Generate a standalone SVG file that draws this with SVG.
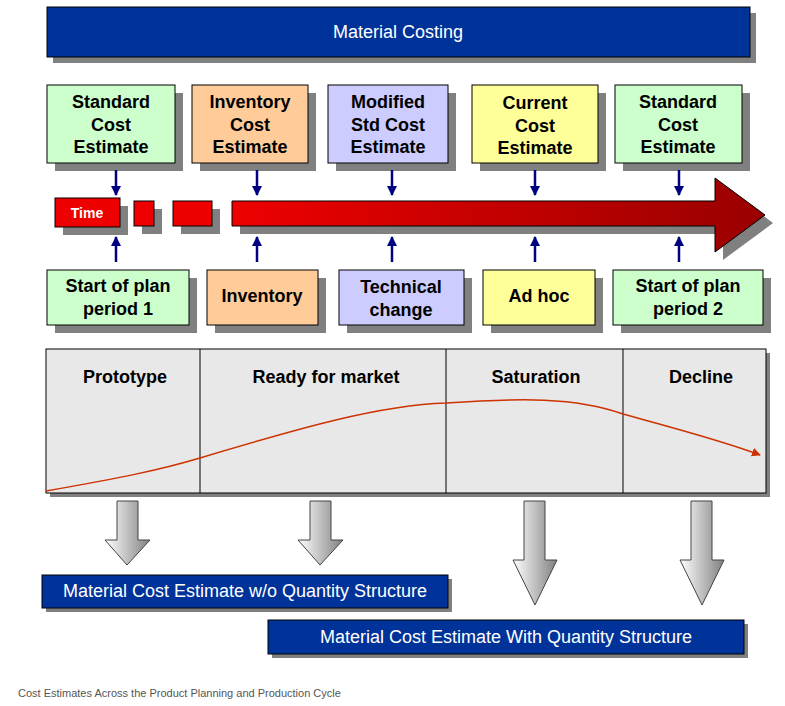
<svg xmlns="http://www.w3.org/2000/svg" width="785" height="706" viewBox="0 0 785 706">
<style>
.t{font-family:"Liberation Sans",Arial,sans-serif;font-weight:bold;font-size:18px;fill:#000;text-anchor:middle}
.w{font-family:"Liberation Sans",Arial,sans-serif;font-size:18px;fill:#fff;text-anchor:middle}
.b{stroke:#000;stroke-width:1}
.sh{fill:#808080}
.na{stroke:#000080;stroke-width:2.5;fill:none;marker-end:url(#nh)}
</style>
<defs>
<marker id="nh" viewBox="0 0 10 10" refX="9" refY="5" markerWidth="4" markerHeight="5" orient="auto" markerUnits="strokeWidth"><path d="M0,0 L10,5 L0,10 z" fill="#000080"/></marker>
<marker id="oh" viewBox="0 0 10 10" refX="9" refY="5" markerWidth="6" markerHeight="6" orient="auto"><path d="M0,0 L10,5 L0,10 z" fill="#CC3300"/></marker>
<linearGradient id="red" x1="0" y1="0" x2="1" y2="0"><stop offset="0" stop-color="#EE0000"/><stop offset="1" stop-color="#990000"/></linearGradient>
<linearGradient id="gr" x1="0" y1="0" x2="1" y2="0"><stop offset="0" stop-color="#ffffff"/><stop offset="1" stop-color="#808080"/></linearGradient>
</defs>
<rect width="785" height="706" fill="#fff"/>
<g id="title"><rect x="53" y="13" width="703" height="50" class="sh"/><rect x="47" y="7" width="703" height="50" fill="#003399" class="b"/><text x="398" y="38" class="w">Material Costing</text></g>
<g id="top1"><rect x="55" y="93" width="128" height="78" class="sh"/><rect x="47" y="85" width="128" height="78" fill="#CCFFCC" class="b"/><text class="t" x="111" y="108">Standard</text><text class="t" x="111" y="131">Cost</text><text class="t" x="111" y="153">Estimate</text></g>
<g id="top2"><rect x="200" y="93" width="116" height="78" class="sh"/><rect x="192" y="85" width="116" height="78" fill="#FFCC99" class="b"/><text class="t" x="250" y="108">Inventory</text><text class="t" x="250" y="131">Cost</text><text class="t" x="250" y="153">Estimate</text></g>
<g id="top3"><rect x="336" y="93" width="120" height="78" class="sh"/><rect x="328" y="85" width="120" height="78" fill="#CCCCFF" class="b"/><text class="t" x="388" y="108">Modified</text><text class="t" x="388" y="131">Std Cost</text><text class="t" x="388" y="153">Estimate</text></g>
<g id="top4"><rect x="480" y="93" width="126" height="78" class="sh"/><rect x="472" y="85" width="126" height="78" fill="#FFFF99" class="b"/><text class="t" x="535" y="109">Current</text><text class="t" x="535" y="132">Cost</text><text class="t" x="535" y="154">Estimate</text></g>
<g id="top5"><rect x="623" y="93" width="127" height="78" class="sh"/><rect x="615" y="85" width="127" height="78" fill="#CCFFCC" class="b"/><text class="t" x="678" y="108">Standard</text><text class="t" x="678" y="131">Cost</text><text class="t" x="678" y="153">Estimate</text></g>
<g id="timeline">
<rect x="63" y="206" width="65" height="29" class="sh"/><rect x="55" y="198" width="65" height="29" fill="#EE0000" class="b"/><text x="87" y="218" font-family="Liberation Sans,Arial,sans-serif" font-weight="bold" font-size="14" fill="#fff" text-anchor="middle">Time</text>
<rect x="142" y="209" width="20" height="25" class="sh"/><rect x="134" y="201" width="20" height="25" fill="#EE0000" class="b"/>
<rect x="181" y="209" width="39" height="25" class="sh"/><rect x="173" y="201" width="39" height="25" fill="#EE0000" class="b"/>
<path d="M240,209 H723 V186 L773,223 L723,260 V234 H240 Z" class="sh"/>
<path d="M232,201 H715 V178 L765,215 L715,252 V226 H232 Z" fill="url(#red)" class="b"/>
</g>
<g id="bot1"><rect x="55" y="278" width="142" height="55" class="sh"/><rect x="47" y="270" width="142" height="55" fill="#CCFFCC" class="b"/><text class="t" x="118" y="292">Start of plan</text><text class="t" x="118" y="315">period 1</text></g>
<g id="bot2"><rect x="215" y="278" width="111" height="55" class="sh"/><rect x="207" y="270" width="111" height="55" fill="#FFCC99" class="b"/><text class="t" x="262" y="302">Inventory</text></g>
<g id="bot3"><rect x="347" y="278" width="125" height="55" class="sh"/><rect x="339" y="270" width="125" height="55" fill="#CCCCFF" class="b"/><text class="t" x="401" y="293">Technical</text><text class="t" x="401" y="316">change</text></g>
<g id="bot4"><rect x="491" y="278" width="112" height="55" class="sh"/><rect x="483" y="270" width="112" height="55" fill="#FFFF99" class="b"/><text class="t" x="539" y="302">Ad hoc</text></g>
<g id="bot5"><rect x="621" y="278" width="150" height="55" class="sh"/><rect x="613" y="270" width="150" height="55" fill="#CCFFCC" class="b"/><text class="t" x="688" y="292">Start of plan</text><text class="t" x="688" y="315">period 2</text></g>
<g id="connectors">
<path class="na" d="M116,170 V195"/><path class="na" d="M257,170 V195"/><path class="na" d="M392,170 V195"/><path class="na" d="M535,170 V195"/><path class="na" d="M679,170 V195"/>
<path class="na" d="M116,262 V237"/><path class="na" d="M257,262 V237"/><path class="na" d="M392,262 V237"/><path class="na" d="M535,262 V237"/><path class="na" d="M679,262 V237"/>
</g>
<g id="lifecycle">
<rect x="50" y="353" width="720" height="144" class="sh"/>
<rect x="46" y="349" width="720" height="144" fill="#E8E8E8" class="b"/>
<path d="M200,349 V493 M446,349 V493 M623,349 V493" stroke="#000" stroke-width="1"/>
<text class="t" x="125" y="383">Prototype</text><text class="t" x="326" y="383">Ready for market</text><text class="t" x="536" y="383">Saturation</text><text class="t" x="701" y="383">Decline</text>
<path d="M46,491 C120,478 160,470 200,458 C300,428 380,405 446,403 C520,398 575,397 623,414 C680,430 720,440 760,455" fill="none" stroke="#CC3300" stroke-width="1.5" marker-end="url(#oh)"/>
</g>
<g id="grayarrows" fill="url(#gr)" stroke="#444" stroke-width="1">
<path d="M117,501 H138 V540 H150 L127,565 L105,540 H117 Z"/>
<path d="M310,501 H331 V540 H343 L320,565 L298,540 H310 Z"/>
<path d="M524,501 H545 V560 H557 L535,605 L513,560 H524 Z"/>
<path d="M691,501 H712 V560 H724 L702,605 L680,560 H691 Z"/>
</g>
<g id="mcewo"><rect x="46" y="579" width="406" height="33" class="sh"/><rect x="42" y="575" width="406" height="33" fill="#003399" class="b"/><text x="245" y="597" class="w">Material Cost Estimate w/o Quantity Structure</text></g>
<g id="mcew"><rect x="272" y="624" width="476" height="34" class="sh"/><rect x="268" y="620" width="476" height="34" fill="#003399" class="b"/><text x="506" y="643" class="w">Material Cost Estimate With Quantity Structure</text></g>
<text x="18" y="697" font-family="Liberation Sans,Arial,sans-serif" font-size="11" fill="#555">Cost Estimates Across the Product Planning and Production Cycle</text>
</svg>
